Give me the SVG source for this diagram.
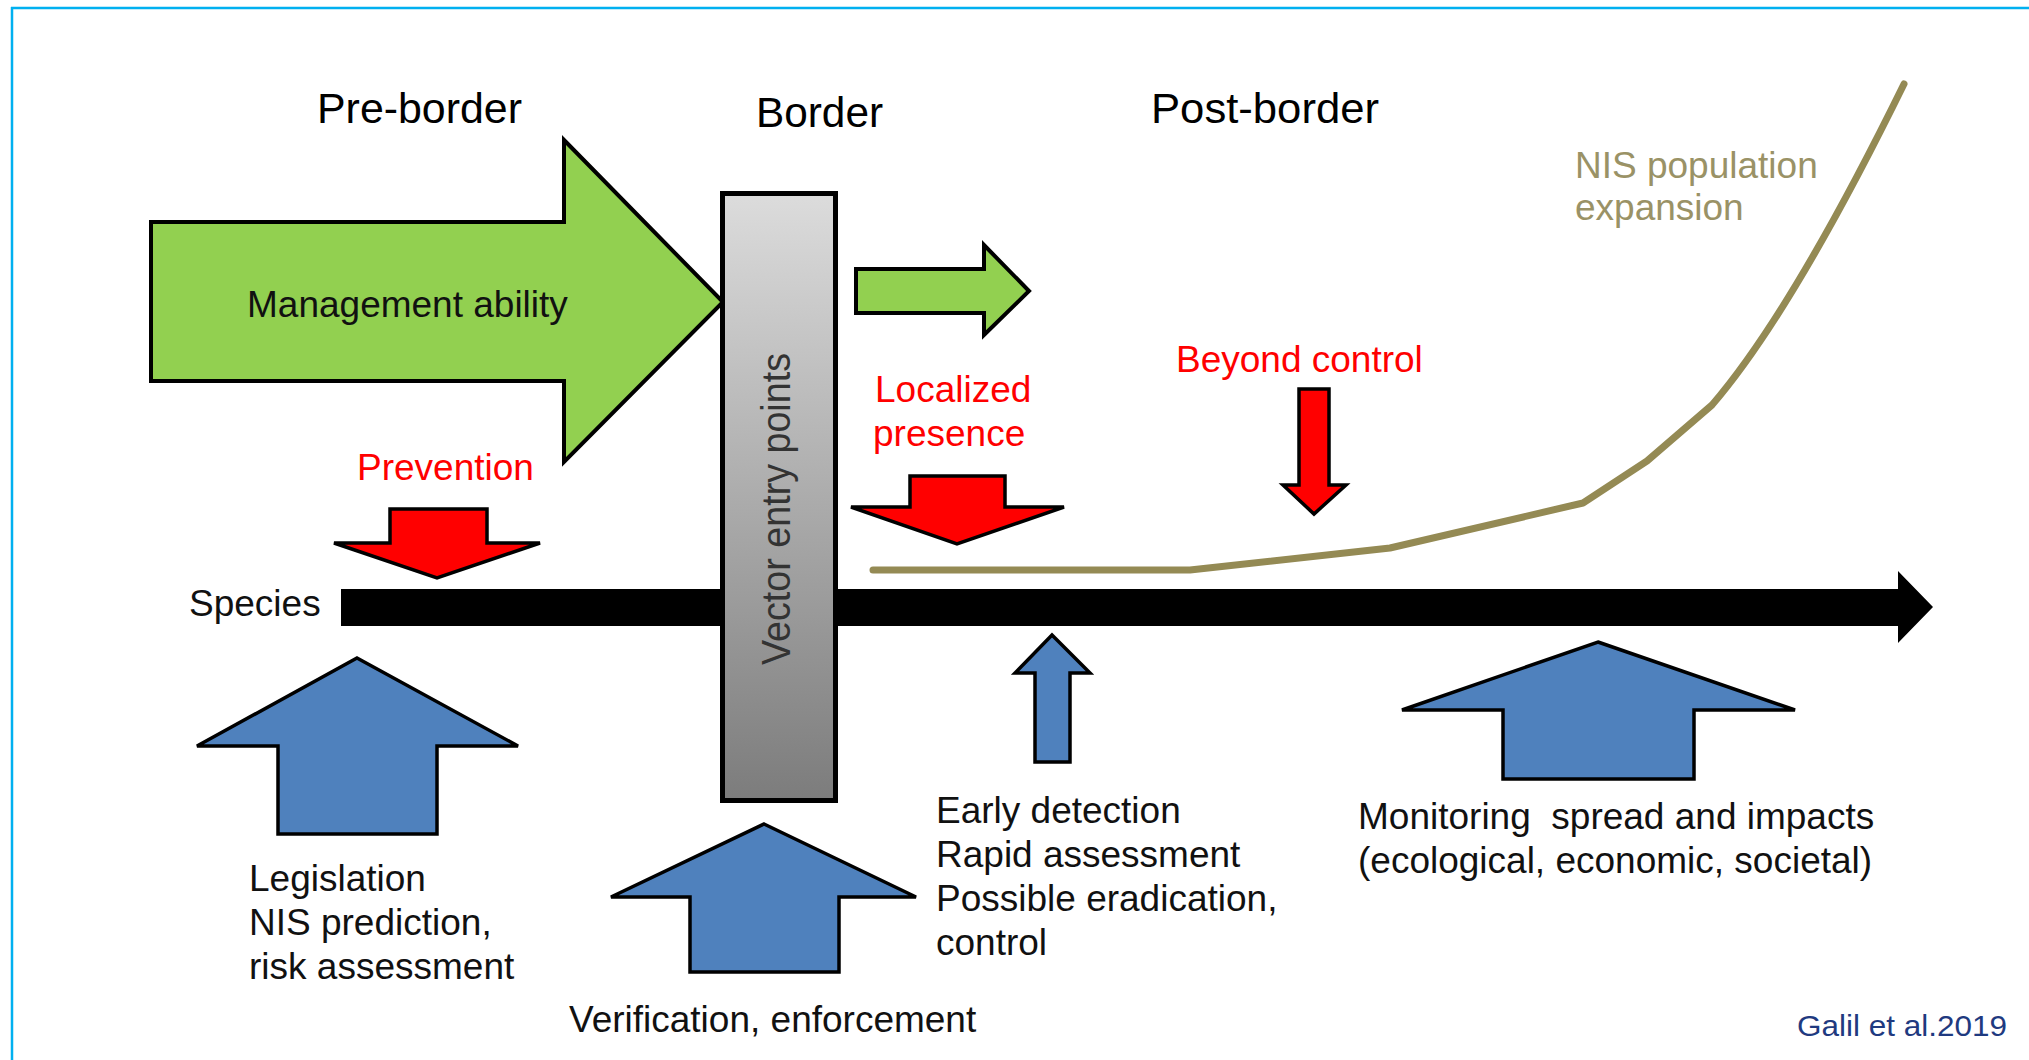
<svg xmlns="http://www.w3.org/2000/svg" width="2029" height="1060" viewBox="0 0 2029 1060">
<defs>
<linearGradient id="barGrad" x1="0" y1="0" x2="0" y2="1">
<stop offset="0" stop-color="#dcdcdc"/>
<stop offset="1" stop-color="#7c7c7c"/>
</linearGradient>
<style>
.t{font-family:"Liberation Sans",Arial,sans-serif;font-size:37px;fill:#111}
.h{font-family:"Liberation Sans",Arial,sans-serif;font-size:42px;fill:#000}
.red{fill:#ff0000}
.tan{fill:#9a9266}
.green{fill:#92d050;stroke:#000;stroke-width:4;stroke-linejoin:miter}
.redA{fill:#ff0000;stroke:#000;stroke-width:3.5;stroke-linejoin:miter}
.blue{fill:#4f81bd;stroke:#000;stroke-width:3.5;stroke-linejoin:miter}
</style>
</defs>
<rect width="2029" height="1060" fill="#fff"/>
<g id="frame">
<line x1="11" y1="8" x2="2029" y2="8" stroke="#00b0f0" stroke-width="2.5"/>
<line x1="12" y1="7" x2="12" y2="1060" stroke="#00b0f0" stroke-width="2.5"/>
</g>
<g id="connectors">
<path id="species-axis" d="M341,589 L1898,589 L1898,571 L1933,607 L1898,643 L1898,626 L341,626 Z" fill="#000"/>
<path id="nis-curve" d="M873,570 L1190,570 L1390,548 L1583,503 L1647,461 L1712,405 Q1792,312 1904,84" fill="none" stroke="#948a54" stroke-width="7" stroke-linejoin="round" stroke-linecap="round"/>
</g>
<g id="management-arrow">
<path class="green" d="M151,222 L564,222 L564,140 L723,302 L564,462 L564,381 L151,381 Z"/>
<text class="t" x="247" y="317">Management ability</text>
</g>
<g id="small-green-arrow">
<path class="green" d="M856,269 L984,269 L984,245 L1029,291 L984,335 L984,313 L856,313 Z"/>
</g>
<g id="vector-bar">
<rect x="722.5" y="193.5" width="113" height="607" fill="url(#barGrad)" stroke="#000" stroke-width="5"/>
<text class="t" transform="translate(790,665) rotate(-90)" x="0" y="0" style="font-size:40px;fill:#333" textLength="312" lengthAdjust="spacingAndGlyphs">Vector entry points</text>
</g>
<g id="headings">
<text class="h" x="317" y="123" textLength="205" lengthAdjust="spacingAndGlyphs">Pre-border</text>
<text class="h" x="756" y="127" textLength="127" lengthAdjust="spacingAndGlyphs">Border</text>
<text class="h" x="1151" y="123" textLength="228" lengthAdjust="spacingAndGlyphs">Post-border</text>
</g>
<g id="prevention">
<text class="t red" x="357" y="480">Prevention</text>
<path class="redA" d="M390,509 L487,509 L487,543 L540,543 L437,578 L334,543 L390,543 Z"/>
</g>
<g id="localized">
<text class="t red" x="875" y="402">Localized</text>
<text class="t red" x="873" y="446">presence</text>
<path class="redA" d="M910,476 L1005,476 L1005,507 L1064,507 L957,544 L851,507 L910,507 Z"/>
</g>
<g id="beyond">
<text class="t red" x="1176" y="372">Beyond control</text>
<path class="redA" d="M1299,389 L1329,389 L1329,485 L1346,485 L1314,514 L1283,485 L1299,485 Z"/>
</g>
<g id="nis-label">
<text class="t tan" x="1575" y="178">NIS population</text>
<text class="t tan" x="1575" y="220">expansion</text>
</g>
<g id="species-label">
<text class="t" x="189" y="616">Species</text>
</g>
<g id="legislation">
<path class="blue" d="M357,658 L518,746 L437,746 L437,834 L278,834 L278,746 L197,746 Z"/>
<text class="t" x="249" y="891">Legislation</text>
<text class="t" x="249" y="935">NIS prediction,</text>
<text class="t" x="249" y="979">risk assessment</text>
</g>
<g id="verification">
<path class="blue" d="M764,824 L916,897 L839,897 L839,972 L690,972 L690,897 L611,897 Z"/>
<text class="t" x="569" y="1032">Verification, enforcement</text>
</g>
<g id="early-detection">
<path class="blue" d="M1052,635 L1090,673 L1070,673 L1070,762 L1035,762 L1035,673 L1015,673 Z"/>
<text class="t" x="936" y="823">Early detection</text>
<text class="t" x="936" y="867">Rapid assessment</text>
<text class="t" x="936" y="911">Possible eradication,</text>
<text class="t" x="936" y="955">control</text>
</g>
<g id="monitoring">
<path class="blue" d="M1598,642 L1795,710 L1694,710 L1694,779 L1503,779 L1503,710 L1402,710 Z"/>
<text class="t" x="1358" y="829" xml:space="preserve">Monitoring  spread and impacts</text>
<text class="t" x="1358" y="873">(ecological, economic, societal)</text>
</g>
<g id="citation">
<text x="1797" y="1036" style="font-family:'Liberation Sans',Arial,sans-serif;font-size:30px;fill:#1f3a80" textLength="210" lengthAdjust="spacingAndGlyphs">Galil et al.2019</text>
</g>
</svg>
